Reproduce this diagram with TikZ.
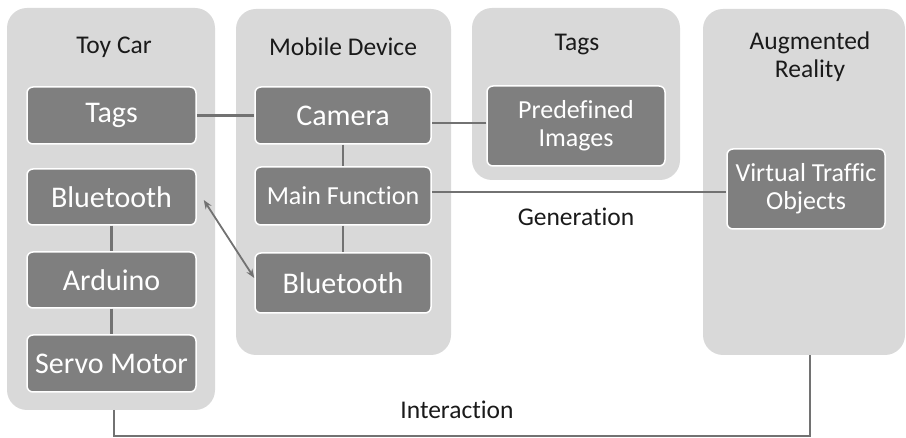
\documentclass[tikz,border=0pt]{standalone}
\usepackage{fontspec}
\setmainfont{Carlito}[RawFeature={-liga;-dlig;-calt;-clig}]
\usetikzlibrary{arrows.meta,calc}
\definecolor{panelgray}{HTML}{D9D9D9}
\definecolor{boxgray}{HTML}{7F7F7F}
\definecolor{linegray}{HTML}{727272}
\definecolor{txt}{HTML}{1A1A1A}
\tikzset{
  panel/.style={fill=panelgray, draw=none, rounded corners=20pt, inner sep=0pt},
  box/.style={fill=boxgray, draw=white, line width=1.5pt, rounded corners=6pt, inner sep=0pt,
    text=white, align=center, font=\fontsize{30}{34}\selectfont},
  smallbox/.style={box, font=\fontsize{26}{28}\selectfont},
  title/.style={text=txt, align=center, font=\fontsize{25.5}{28}\selectfont, inner sep=0pt},
  conn/.style={draw=linegray, line width=2.4pt},
}
\begin{document}
\begin{tikzpicture}[x=1pt,y=-1pt]
\useasboundingbox (0,0) rectangle (906,438);
% panels
\node[panel, minimum width=208pt, minimum height=402pt] (car) at (111,209) {};
\node[panel, minimum width=215pt, minimum height=346pt] (mob) at (343.5,182) {};
\node[panel, minimum width=208pt, minimum height=172pt] (tagp) at (576,94) {};
\node[panel, minimum width=202pt, minimum height=346pt] (ar) at (804,182) {};
% titles
\node[title] (tcar) at (114,47) {Toy Car};
\node[title] (tmob) at (343,47) {Mobile Device};
\node[title] (ttag) at (577,45) {Tags};
\node[title] (tar) at (810,57) {Augmented\\Reality};
% boxes
\node[box, minimum width=169pt, minimum height=57pt] (tagsc) at (111.5,115.5) {Tags};
\node[box, minimum width=169pt, minimum height=56pt] (btc) at (111.5,197) {Bluetooth};
\node[box, minimum width=169pt, minimum height=56pt] (ard) at (111.5,280) {Arduino};
\node[box, minimum width=169pt, minimum height=57pt] (servo) at (111.5,363.5) {Servo Motor};
\node[box, minimum width=176pt, minimum height=57pt] (cam) at (343,115.5) {Camera};
\node[smallbox, minimum width=176pt, minimum height=58pt] (mainf) at (343,196) {Main Function};
\node[box, minimum width=176pt, minimum height=60pt] (btm) at (343,283) {Bluetooth};
\node[smallbox, minimum width=178pt, minimum height=80pt] (pre) at (576,126) {Predefined\\Images};
\node[smallbox, minimum width=158pt, minimum height=80pt] (vto) at (806,189) {Virtual Traffic\\Objects};
% connectors
\draw[conn] (tagsc.east) -- (cam.west);
\draw[conn] ([yshift=3pt]pre.west) -- ([yshift=3pt]pre.west -| cam.east);
\draw[conn] (cam.south) -- (mainf.north);
\draw[conn] (mainf.south) -- (btm.north);
\draw[conn] ([yshift=4pt]mainf.east) -- ([yshift=4pt]mainf.east -| vto.west);
\draw[conn] (btc.south) -- (ard.north);
\draw[conn] (ard.south) -- (servo.north);
\draw[conn, line width=1.8pt, {Stealth[length=9pt,width=7pt]}-{Stealth[length=9pt,width=7pt]}]
  ([xshift=7pt,yshift=-3pt]btc.east) -- ([yshift=5pt]btm.west);
\coordinate (arb) at (810,355);
\coordinate (low) at (114,436);
\draw[conn] (114,410) -- (low) -| (arb);
\node[title] (gen) at (576,217) {Generation};
\node[title] (inter) at (457,410) {Interaction};
\end{tikzpicture}
\end{document}
